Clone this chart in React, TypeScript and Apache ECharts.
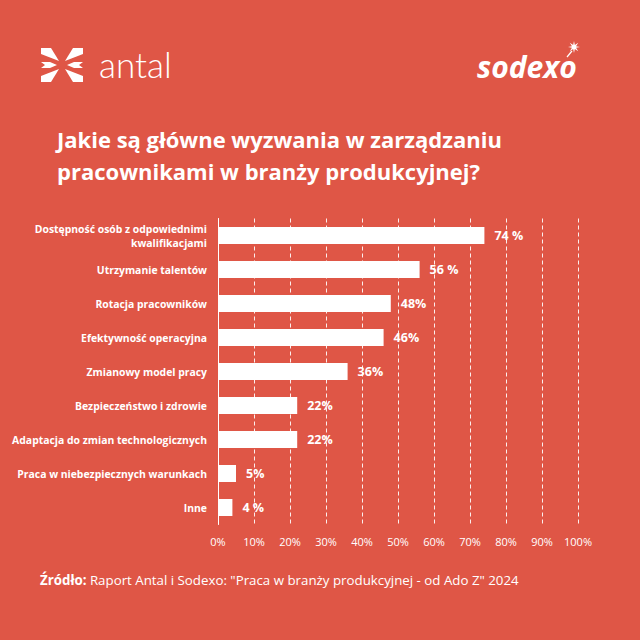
import React, { useEffect, useRef } from "react";
import * as echarts from "echarts";

const categories = [
  "Dostępność osób z odpowiednimi\nkwalifikacjami",
  "Utrzymanie talentów",
  "Rotacja pracowników",
  "Efektywność operacyjna",
  "Zmianowy model pracy",
  "Bezpieczeństwo i zdrowie",
  "Adaptacja do zmian technologicznych",
  "Praca w niebezpiecznych warunkach",
  "Inne",
];
const values = [74, 56, 48, 46, 36, 22, 22, 5, 4];
const valueLabels = ["74 %", "56 %", "48%", "46%", "36%", "22%", "22%", "5%", "4 %"];
const tickValues = [0, 10, 20, 30, 40, 50, 60, 70, 80, 90, 100];

const BG = "#DF5646";
const FONT = "'Open Sans', sans-serif";

function starPoints(cx: number, cy: number, ro: number, ri: number, n: number) {
  const pts: number[][] = [];
  for (let i = 0; i < n * 2; i++) {
    const r = i % 2 === 0 ? ro : ri;
    const a = (Math.PI * i) / n - Math.PI / 2;
    pts.push([cx + r * Math.cos(a), cy + r * Math.sin(a)]);
  }
  return pts;
}

const leftTop = [[41, 48], [51, 48], [59, 61], [41, 54]];
const leftMid = [[41, 62], [50, 62], [57, 65], [50, 68], [41, 68], [45, 65]];
const leftBot = [[41, 82], [51, 82], [59, 69], [41, 76]];
const mirror = (p: number[][]) => p.map(([x, y]) => [124 - x, y]);

export default function App() {
  const ref = useRef<HTMLDivElement>(null);
  useEffect(() => {
    if (!ref.current) return;
    const chart = echarts.init(ref.current, undefined, { renderer: "svg" });
    const iconParts = [leftTop, leftMid, leftBot, mirror(leftTop), mirror(leftMid), mirror(leftBot)];
    chart.setOption({
      animation: false,
      backgroundColor: BG,
      textStyle: { fontFamily: FONT },
      graphic: [
        ...iconParts.map((pts) => ({
          type: "polygon",
          shape: { points: pts },
          style: { fill: "#fff" },
        })),
        {
          type: "text",
          x: 99,
          y: 64,
          style: {
            text: "antal",
            fill: "#fff",
            font: "300 35px Lato, sans-serif",
            verticalAlign: "middle",
          },
        },
        {
          type: "text",
          x: 477,
          y: 66,
          style: {
            text: "sodexo",
            fill: "#fff",
            font: "italic bold 30px 'Open Sans', sans-serif",
            verticalAlign: "middle",
          },
        },
        {
          type: "polygon",
          shape: { points: starPoints(574, 47, 6, 2.2, 8) },
          style: { fill: "#fff" },
        },
        {
          type: "line",
          shape: { x1: 567, y1: 57, x2: 572, y2: 51 },
          style: { stroke: "#fff", lineWidth: 1.2 },
        },
        {
          type: "text",
          x: 57,
          y: 139,
          style: {
            text: "Jakie są główne wyzwania w zarządzaniu",
            fill: "#fff",
            font: "bold 22px 'Open Sans', sans-serif",
            verticalAlign: "middle",
          },
        },
        {
          type: "text",
          x: 57,
          y: 171,
          style: {
            text: "pracownikami w branży produkcyjnej?",
            fill: "#fff",
            font: "bold 22px 'Open Sans', sans-serif",
            verticalAlign: "middle",
          },
        },
        {
          type: "text",
          x: 40,
          y: 580,
          style: {
            text: "{b|Źródło:} Raport Antal i Sodexo: \"Praca w branży produkcyjnej - od Ado Z\" 2024",
            fill: "#fff",
            font: "13.3px 'Open Sans', sans-serif",
            verticalAlign: "middle",
            rich: {
              b: { fontWeight: "bold", fontSize: 13.3, fill: "#fff", fontFamily: FONT },
            },
          },
        },
      ],
      grid: { left: 218, right: 62, top: 218.5, height: 306, containLabel: false },
      xAxis: {
        type: "value",
        min: 0,
        max: 100,
        interval: 10,
        axisLine: { show: false },
        axisTick: { show: false },
        axisLabel: {
          color: "#fff",
          fontSize: 11,
          margin: 11,
          fontFamily: FONT,
          formatter: (v: number) => (tickValues.includes(v) ? v + "%" : ""),
        },
        splitLine: { show: true, lineStyle: { color: "#fff", type: [4, 3], width: 1, opacity: 0.9 } },
      },
      yAxis: {
        type: "category",
        inverse: true,
        data: categories,
        axisLine: { show: true, lineStyle: { color: "#fff", width: 1 } },
        axisTick: { show: false },
        axisLabel: {
          color: "#fff",
          fontSize: 10.4,
          fontWeight: "bold",
          margin: 11,
          lineHeight: 14,
          align: "right",
          fontFamily: FONT,
        },
      },
      series: [
        {
          type: "bar",
          data: values,
          barWidth: 17,
          itemStyle: { color: "#fff" },
          label: {
            show: true,
            position: "right",
            distance: 10,
            color: "#fff",
            fontWeight: "bold",
            fontSize: 12.5,
            fontFamily: FONT,
            formatter: (p: any) => valueLabels[p.dataIndex],
          },
        },
      ],
    });
    return () => chart.dispose();
  }, []);
  return (
    <div
      ref={ref}
      style={{ position: "fixed", left: 0, top: 0, width: 640, height: 640 }}
    />
  );
}
